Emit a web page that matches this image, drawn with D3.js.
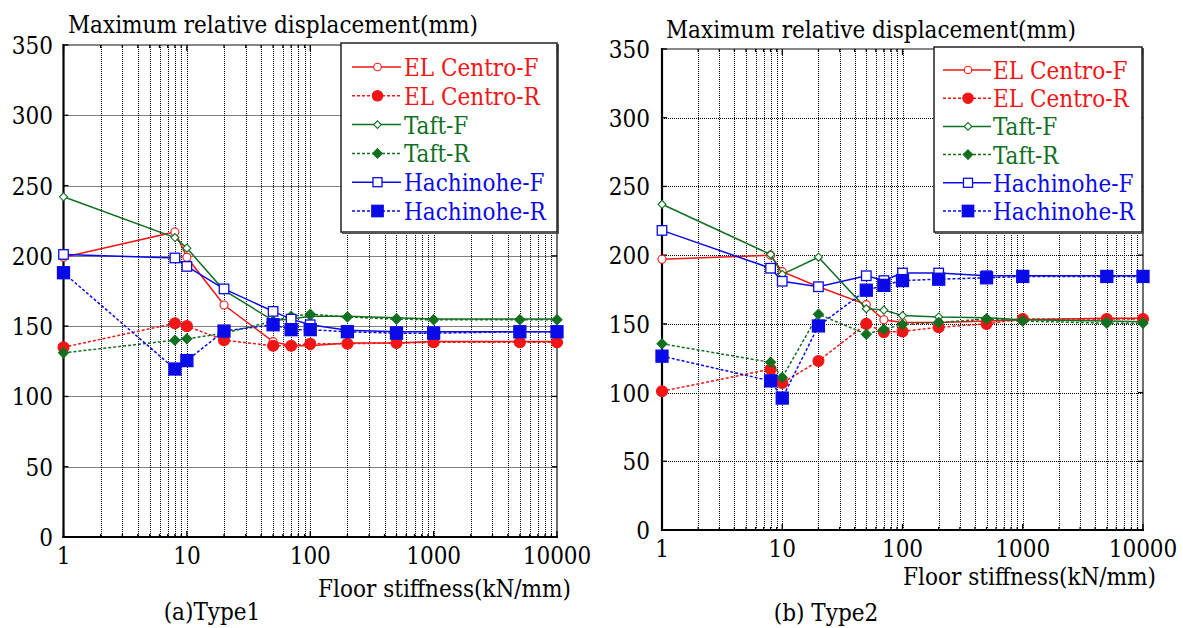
<!DOCTYPE html>
<html>
<head>
<meta charset="utf-8">
<script src="https://cdn.jsdelivr.net/npm/d3@7"></script>
<style>
  html, body { margin: 0; padding: 0; background: #fff; }
  svg { display: block; }
</style>
</head>
<body>
<svg id="chart" width="1183" height="628"></svg>
<script>
// ---------------- data ----------------
const stiffness = [1, 8, 10, 20, 50, 70, 100, 200, 500, 1000, 5000, 10000];

// (a) Type1
const elCentroF1  = [199, 217, 199, 165, 139, 136, 136, 138, 138, 139, 139, 139];
const elCentroR1  = [135, 152, 150, 140, 136, 136, 137.5, 137.5, 138, 138.5, 138.5, 138.5];
const taftF1      = [242, 213, 205.5, 175.5, 154, 155, 157, 157, 156, 155, 155, 155];
const taftR1      = [131, 140, 141, 145, 153.5, 157, 158.5, 156.5, 155, 154.5, 154.5, 154.5];
const hachinoheF1 = [201, 198.5, 192.5, 176.5, 160.5, 155, 151, 147, 146, 146, 146, 146];
const hachinoheR1 = [188, 119.5, 125.5, 146.5, 151, 147.5, 147.5, 146, 145, 145, 146, 146];

// (b) Type2
const elCentroF2  = [197, 200, 188, 177, 164, 153, 151, 151, 152, 153, 154, 154];
const elCentroR2  = [101, 117, 107, 123, 150, 144, 144.5, 147.5, 150, 153.5, 153.5, 153.5];
const taftF2      = [237, 200.5, 186, 198.5, 161, 160, 156, 155, 154.5, 153, 152, 151.5];
const taftR2      = [135.5, 122, 111, 157, 142.5, 146, 149.5, 151, 153.5, 152, 150.5, 150.5];
const hachinoheF2 = [218, 190.5, 181, 177, 185, 181.5, 187, 187, 185, 185, 185, 185];
const hachinoheR2 = [126.5, 108.5, 96, 148.5, 174.5, 178, 181.5, 182.5, 183.5, 184.5, 184.5, 184.5];

const seriesNames = ["EL Centro-F", "EL Centro-R", "Taft-F", "Taft-R", "Hachinohe-F", "Hachinohe-R"];
const yTicks = [0, 50, 100, 150, 200, 250, 300, 350];
const xTicks = [1, 10, 100, 1000, 10000];
const yTitle = "Maximum relative displacement(mm)";
const xTitle = "Floor stiffness(kN/mm)";
const panelCaptions = ["(a)Type1", "(b) Type2"];

// ---------------- styles ----------------
const FONT = "'DejaVu Serif Condensed', 'DejaVu Serif', serif";
const FS = 24;
const RED = "#f21515", GREEN = "#11701f", BLUE = "#0a0ae8";
const styles = [
  {color: RED,   dash: null,  marker: "circle",  filled: false},
  {color: RED,   dash: "3,2", marker: "circle",  filled: true},
  {color: GREEN, dash: null,  marker: "diamond", filled: false},
  {color: GREEN, dash: "3,2", marker: "diamond", filled: true},
  {color: BLUE,  dash: null,  marker: "square",  filled: false},
  {color: BLUE,  dash: "3,2", marker: "square",  filled: true}
];

const panels = [
  {plot: {x0: 63.5, x1: 557, y0: 45, y1: 537},
   legend: {x: 341, y: 43, w: 216, h: 189, lineX0: 352, lineX1: 401, textX: 404, rowY0: 67, rowDy: 28.8},
   titleX: 68, titleY: 33, yLabelX: 53, xTitleRight: 571, xTitleY: 597, captionX: 212, captionY: 620,
   series: [elCentroF1, elCentroR1, taftF1, taftR1, hachinoheF1, hachinoheR1], caption: panelCaptions[0]},
  {plot: {x0: 662, x1: 1143, y0: 49, y1: 530},
   legend: {x: 934, y: 47, w: 208, h: 185, lineX0: 943, lineX1: 991, textX: 993, rowY0: 70, rowDy: 28.2},
   titleX: 666, titleY: 38, yLabelX: 650, xTitleRight: 1156, xTitleY: 585, captionX: 826, captionY: 621,
   series: [elCentroF2, elCentroR2, taftF2, taftR2, hachinoheF2, hachinoheR2], caption: panelCaptions[1]}
];

const svg = d3.select("#chart");

function drawMarker(g, kind, filled, color, cx, cy, scale) {
  const s = scale || 1;
  if (kind === "circle") {
    g.append("circle").attr("cx", cx).attr("cy", cy)
      .attr("r", filled ? 5.5 * s : 4 * s)
      .attr("fill", filled ? color : "#fff").attr("stroke", color).attr("stroke-width", 1.1);
  } else if (kind === "diamond") {
    const h = filled ? 5 * s : 4 * s;
    g.append("path")
      .attr("d", `M${cx},${cy - h}L${cx + h},${cy}L${cx},${cy + h}L${cx - h},${cy}Z`)
      .attr("fill", filled ? color : "#fff").attr("stroke", color).attr("stroke-width", 1.1);
  } else {
    const a = filled ? 12 * s : 9.5 * s;
    g.append("rect").attr("x", cx - a / 2).attr("y", cy - a / 2).attr("width", a).attr("height", a)
      .attr("fill", filled ? color : "#fff").attr("stroke", color).attr("stroke-width", 1.3);
  }
}

function txt(g) {
  return g.append("text").attr("font-family", FONT).style("font-family", FONT).attr("font-size", FS);
}

panels.forEach(p => {
  const P = p.plot;
  const x = d3.scaleLog().domain([1, 10000]).range([P.x0, P.x1]);
  const y = d3.scaleLinear().domain([0, 350]).range([P.y1, P.y0]);
  const g = svg.append("g");

  const xGrid = [];
  for (let k = 0; k < 4; k++) for (let m = 1; m <= 9; m++) xGrid.push(m * Math.pow(10, k));
  xGrid.push(10000);

  // grid
  const grid = g.append("g").attr("stroke", "#000").attr("stroke-width", 1).attr("stroke-dasharray", "1,1");
  xGrid.filter(v => v > 1 && v < 10000).forEach(v => {
    grid.append("line").attr("x1", Math.round(x(v)) + 0.5).attr("x2", Math.round(x(v)) + 0.5)
      .attr("y1", P.y0).attr("y2", P.y1);
  });
  yTicks.filter(v => v > 0 && v < 350).forEach(v => {
    grid.append("line").attr("x1", P.x0).attr("x2", P.x1)
      .attr("y1", Math.round(y(v)) + 0.5).attr("y2", Math.round(y(v)) + 0.5);
  });

  // frame
  g.append("line").attr("x1", P.x0).attr("x2", P.x1).attr("y1", P.y0).attr("y2", P.y0).attr("stroke", "#111").attr("stroke-width", 1.2);
  g.append("line").attr("x1", P.x1).attr("x2", P.x1).attr("y1", P.y0).attr("y2", P.y1).attr("stroke", "#111").attr("stroke-width", 1.2);
  g.append("line").attr("x1", P.x0).attr("x2", P.x0).attr("y1", P.y0 - 1).attr("y2", P.y1 + 1).attr("stroke", "#000").attr("stroke-width", 2.2);
  g.append("line").attr("x1", P.x0 - 1).attr("x2", P.x1 + 1).attr("y1", P.y1).attr("y2", P.y1).attr("stroke", "#000").attr("stroke-width", 2.2);

  // ticks
  const tk = g.append("g").attr("stroke", "#000").attr("stroke-width", 1.3);
  yTicks.forEach(v => {
    tk.append("line").attr("x1", P.x0).attr("x2", P.x0 + 5).attr("y1", y(v)).attr("y2", y(v));
    tk.append("line").attr("x1", P.x1).attr("x2", P.x1 - 5).attr("y1", y(v)).attr("y2", y(v));
  });
  xGrid.forEach(v => {
    const major = xTicks.includes(v);
    tk.append("line").attr("x1", x(v)).attr("x2", x(v)).attr("y1", P.y1).attr("y2", P.y1 - (major ? 6 : 3));
    tk.append("line").attr("x1", x(v)).attr("x2", x(v)).attr("y1", P.y0).attr("y2", P.y0 + (major ? 6 : 3));
  });

  // tick labels
  const lab = g.append("g").attr("fill", "#000");
  yTicks.forEach(v => {
    txt(lab).attr("x", p.yLabelX).attr("y", y(v) + 9).attr("text-anchor", "end").text(v);
  });
  xTicks.forEach(v => {
    txt(lab).attr("x", x(v)).attr("y", P.y1 + 27).attr("text-anchor", "middle").text(v);
  });

  // titles
  txt(g).attr("x", p.titleX).attr("y", p.titleY).text(yTitle);
  txt(g).attr("x", p.xTitleRight).attr("y", p.xTitleY).attr("text-anchor", "end").text(xTitle);
  txt(g).attr("x", p.captionX).attr("y", p.captionY).attr("text-anchor", "middle").text(p.caption);

  // series
  const line = d3.line().x((d, i) => x(stiffness[i])).y(d => y(d));
  p.series.forEach((vals, si) => {
    const st = styles[si];
    const sg = g.append("g");
    sg.append("path").attr("d", line(vals)).attr("fill", "none").attr("stroke", st.color)
      .attr("stroke-width", 1.5).attr("stroke-dasharray", st.dash);
    vals.forEach((v, i) => drawMarker(sg, st.marker, st.filled, st.color, x(stiffness[i]), y(v)));
  });

  // legend
  const L = p.legend;
  const lg = g.append("g");
  lg.append("rect").attr("x", L.x + 1.5).attr("y", L.y + 1.5).attr("width", L.w).attr("height", L.h)
    .attr("fill", "none").attr("stroke", "#555").attr("stroke-width", 1);
  lg.append("rect").attr("x", L.x).attr("y", L.y).attr("width", L.w).attr("height", L.h)
    .attr("fill", "#fff").attr("stroke", "#222").attr("stroke-width", 1.5);
  seriesNames.forEach((name, i) => {
    const st = styles[i];
    const ry = L.rowY0 + i * L.rowDy;
    lg.append("line").attr("x1", L.lineX0).attr("x2", L.lineX1).attr("y1", ry).attr("y2", ry)
      .attr("stroke", st.color).attr("stroke-width", 1.5).attr("stroke-dasharray", st.dash);
    drawMarker(lg, st.marker, st.filled, st.color, (L.lineX0 + L.lineX1) / 2 + 1, ry, 0.95);
    txt(lg).attr("x", L.textX).attr("y", ry + 9).attr("fill", st.color).text(name);
  });
});
</script>
</body>
</html>
